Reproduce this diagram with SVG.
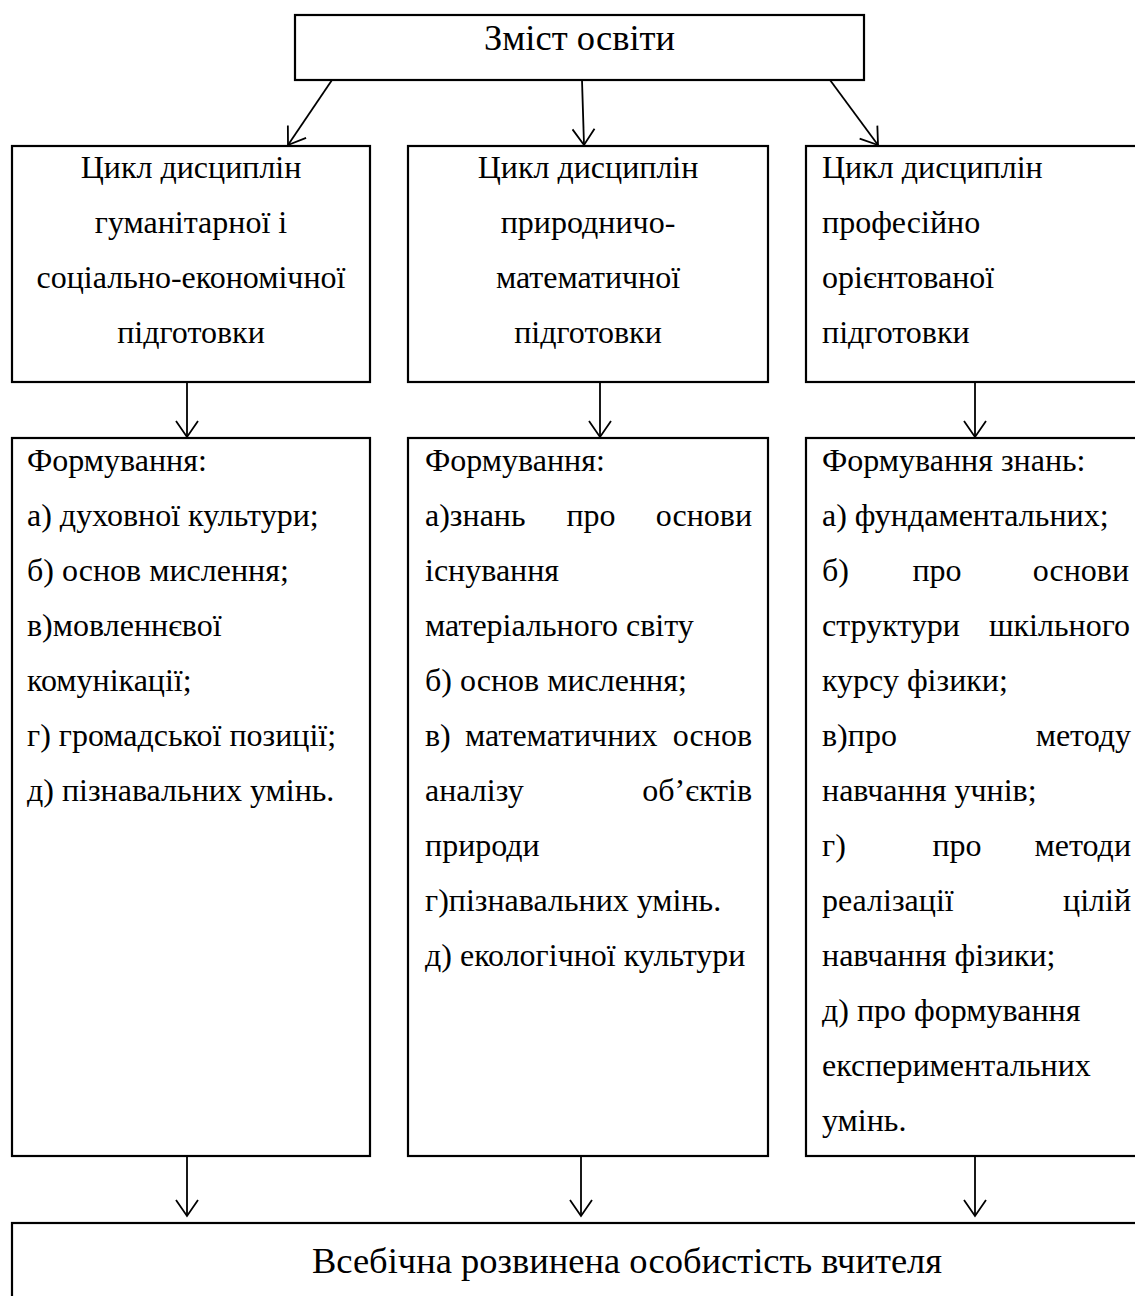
<svg xmlns="http://www.w3.org/2000/svg" width="1135" height="1296" viewBox="0 0 1135 1296">
<defs>
<style>
.box{fill:#fff;stroke:#000;stroke-width:2.2}
.t{font-family:"Liberation Serif","Times New Roman",serif;font-size:32px;fill:#000}
.big{font-family:"Liberation Serif","Times New Roman",serif;font-size:36.5px;fill:#000}
.c{text-anchor:middle}
.e{text-anchor:end}
.m{text-anchor:middle}
.conn line{stroke:#000;stroke-width:1.8;fill:none;marker-end:url(#arr)}
</style>
<marker id="arr" markerUnits="userSpaceOnUse" markerWidth="20" markerHeight="24" viewBox="0 0 20 24" refX="18" refY="12" orient="auto">
<path d="M2,1 L18,12 L2,23" fill="none" stroke="#000" stroke-width="1.8"/>
</marker>
</defs>
<rect width="1135" height="1296" fill="#fff"/>

<g id="top">
<rect class="box" x="295" y="15" width="569" height="65"/>
<text class="big c" x="579.5" y="50">Зміст освіти</text>
</g>

<g id="cycle1">
<rect class="box" x="12" y="146" width="358" height="236"/>
<text class="t c" x="191" y="178">Цикл дисциплін</text>
<text class="t c" x="191" y="233">гуманітарної і</text>
<text class="t c" x="191" y="288">соціально-економічної</text>
<text class="t c" x="191" y="343">підготовки</text>
</g>

<g id="cycle2">
<rect class="box" x="408" y="146" width="360" height="236"/>
<text class="t c" x="588" y="178">Цикл дисциплін</text>
<text class="t c" x="588" y="233">природничо-</text>
<text class="t c" x="588" y="288">математичної</text>
<text class="t c" x="588" y="343">підготовки</text>
</g>

<g id="cycle3">
<rect class="box" x="806" y="146" width="360" height="236"/>
<text class="t" x="822" y="178">Цикл дисциплін</text>
<text class="t" x="822" y="233">професійно</text>
<text class="t" x="822" y="288">орієнтованої</text>
<text class="t" x="822" y="343">підготовки</text>
</g>

<g id="form1">
<rect class="box" x="12" y="438" width="358" height="718"/>
<text class="t" x="27" y="471">Формування:</text>
<text class="t" x="27" y="526">а) духовної культури;</text>
<text class="t" x="27" y="581">б) основ мислення;</text>
<text class="t" x="27" y="636">в)мовленнєвої</text>
<text class="t" x="27" y="691">комунікації;</text>
<text class="t" x="27" y="746">г) громадської позиції;</text>
<text class="t" x="27" y="801">д) пізнавальних умінь.</text>
</g>

<g id="form2">
<rect class="box" x="408" y="438" width="360" height="718"/>
<text class="t" x="425" y="471">Формування:</text>
<text class="t" x="425" y="526">а)знань</text>
<text class="t m" x="591" y="526">про</text>
<text class="t e" x="752" y="526">основи</text>
<text class="t" x="425" y="581">існування</text>
<text class="t" x="425" y="636">матеріального світу</text>
<text class="t" x="425" y="691">б) основ мислення;</text>
<text class="t" x="425" y="746">в)</text>
<text class="t" x="465" y="746">математичних</text>
<text class="t e" x="752" y="746">основ</text>
<text class="t" x="425" y="801">аналізу</text>
<text class="t e" x="752" y="801">об’єктів</text>
<text class="t" x="425" y="856">природи</text>
<text class="t" x="425" y="911">г)пізнавальних умінь.</text>
<text class="t" x="425" y="966">д) екологічної культури</text>
</g>

<g id="form3">
<rect class="box" x="806" y="438" width="360" height="718"/>
<text class="t" x="822" y="471">Формування знань:</text>
<text class="t" x="822" y="526">а) фундаментальних;</text>
<text class="t" x="822" y="581">б)</text>
<text class="t m" x="937" y="581">про</text>
<text class="t e" x="1129" y="581">основи</text>
<text class="t" x="822" y="636">структури</text>
<text class="t e" x="1130" y="636">шкільного</text>
<text class="t" x="822" y="691">курсу фізики;</text>
<text class="t" x="822" y="746">в)про</text>
<text class="t e" x="1131" y="746">методу</text>
<text class="t" x="822" y="801">навчання учнів;</text>
<text class="t" x="822" y="856">г)</text>
<text class="t m" x="957" y="856">про</text>
<text class="t e" x="1131" y="856">методи</text>
<text class="t" x="822" y="911">реалізації</text>
<text class="t e" x="1131" y="911">цілій</text>
<text class="t" x="822" y="966">навчання фізики;</text>
<text class="t" x="822" y="1021">д) про формування</text>
<text class="t" x="822" y="1076">експериментальних</text>
<text class="t" x="822" y="1131">умінь.</text>
</g>

<g id="result">
<rect class="box" x="12" y="1223" width="1240" height="100"/>
<text class="big c" x="627" y="1273">Всебічна розвинена особистість вчителя</text>
</g>

<g id="connectors" class="conn">
<line x1="332" y1="80" x2="288" y2="145"/>
<line x1="582" y1="80" x2="584" y2="145"/>
<line x1="830" y1="80" x2="878" y2="145"/>
<line x1="187" y1="382" x2="187" y2="437"/>
<line x1="600" y1="382" x2="600" y2="437"/>
<line x1="975" y1="382" x2="975" y2="437"/>
<line x1="187" y1="1156" x2="187" y2="1216"/>
<line x1="581" y1="1156" x2="581" y2="1216"/>
<line x1="975" y1="1156" x2="975" y2="1216"/>
</g>
</svg>
